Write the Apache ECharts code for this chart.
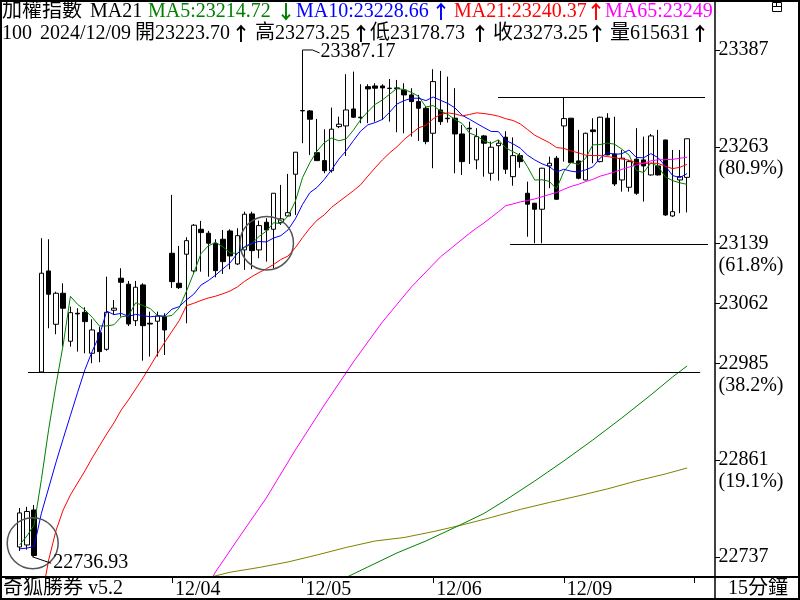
<!DOCTYPE html>
<html lang="zh-Hant">
<head>
<meta charset="UTF-8">
<title>加權指數 15分鐘</title>
<script src="https://cdn.jsdelivr.net/npm/echarts@6/dist/echarts.min.js"></script>
<style>
    html, body { margin: 0; padding: 0; background: #fff; }
    #chart { width: 800px; height: 600px; }
</style>
</head>
<body>
<div id="chart"></div>
<script>
// ---------- data ----------
const sessionDays = ['12/02', '12/03', '12/04', '12/05', '12/06', '12/09', '12/10'];
const slotTimes = ['09:15', '09:30', '09:45', '10:00', '10:15', '10:30', '10:45', '11:00', '11:15',
    '11:30', '11:45', '12:00', '12:15', '12:30', '12:45', '13:00', '13:15', '13:30'];
const labelDays = ['12/04', '12/05', '12/06', '12/09'];
const tickDays = ['12/04', '12/05', '12/06', '12/09', '12/10'];

const opens = [
    22749.4, 22752.0, 22796.9, 22974.0, 23103.6, 23035.2, 23075.0, 23013.4, 23049.3, 23050.6,
    22998.0, 23024.4, 23003.1, 23053.2, 23094.3, 23086.6, 23039.8, 23085.7, 23036.5, 23039.1,
    23045.0, 23126.3, 23087.8, 23125.1, 23103.6, 23157.1, 23152.0, 23139.2, 23144.3, 23154.9,
    23112.6, 23130.6, 23176.8, 23130.6, 23166.1, 23157.1, 23165.6, 23174.2, 23227.7, 23309.0,
    23309.0, 23255.4, 23245.2, 23232.3, 23288.8, 23289.7, 23311.5, 23300.9, 23340.1, 23341.0,
    23341.0, 23338.1, 23338.5, 23335.9, 23329.5, 23320.9, 23312.4, 23280.3, 23310.2, 23299.6,
    23299.6, 23279.4, 23286.8, 23246.1, 23276.9, 23229.0, 23264.4, 23275.2, 23224.6, 23251.6,
    23203.3, 23190.5, 23182.8, 23238.4, 23248.3, 23289.7, 23299.6, 23244.8, 23220.4, 23284.6,
    23243.9, 23299.6, 23253.8, 23220.4, 23211.0, 23247.0, 23246.1, 23226.8, 23238.4, 23271.7,
    23174.2, 23220.4, 23223.70
];
const closes = [
    22793.1, 22795.0, 22738.5, 23100.7, 23073.7, 23075.0, 23055.8, 23050.1, 23048.5, 23038.6,
    23027.9, 23000.1, 23050.6, 23055.8, 23089.1, 23035.6, 23082.7, 23033.4, 23035.5, 23045.9,
    23027.9, 23089.9, 23082.2, 23142.5, 23162.3, 23152.8, 23139.2, 23104.0, 23115.6, 23122.9,
    23148.9, 23176.4, 23129.7, 23161.8, 23156.2, 23203.3, 23170.4, 23178.4, 23256.0, 23309.5,
    23298.3, 23245.2, 23232.3, 23285.5, 23291.9, 23310.2, 23300.9, 23300.2, 23337.2, 23338.1,
    23338.5, 23337.8, 23337.5, 23329.5, 23320.9, 23312.4, 23269.6, 23346.6, 23295.2, 23299.0,
    23279.4, 23243.9, 23286.0, 23276.0, 23267.5, 23262.4, 23267.5, 23234.1, 23251.6, 23243.9,
    23189.3, 23182.8, 23235.4, 23241.8, 23195.6, 23299.1, 23242.6, 23222.6, 23280.3, 23282.4,
    23300.9, 23252.5, 23215.3, 23248.3, 23243.9, 23203.3, 23238.4, 23276.9, 23226.8, 23175.5,
    23179.7, 23224.6, 23273.25
];
const lows = [
    22744.3, 22746.0, 22736.93, 22973.6, 23030.1, 23022.4, 23006.5, 23006.5, 23000.1, 22998.0,
    22985.2, 22986.5, 23001.3, 23047.2, 23045.0, 23033.0, 23033.0, 22988.5, 22993.7, 22993.7,
    22995.8, 23081.8, 23080.5, 23036.5, 23101.4, 23102.7, 23096.3, 23095.5, 23099.8, 23105.8,
    23111.3, 23104.9, 23105.8, 23119.9, 23115.6, 23107.1, 23162.7, 23173.3, 23175.5, 23267.5,
    23252.5, 23244.8, 23229.0, 23229.8, 23286.8, 23251.2, 23300.0, 23293.2, 23293.2, 23295.2,
    23297.4, 23295.2, 23281.6, 23280.3, 23276.0, 23270.5, 23266.2, 23235.4, 23291.0, 23294.0,
    23229.0, 23226.8, 23240.9, 23234.1, 23224.6, 23219.5, 23219.5, 23228.1, 23213.0, 23236.0,
    23147.6, 23139.2, 23139.2, 23209.8, 23195.0, 23243.9, 23242.0, 23221.3, 23220.0, 23241.8,
    23243.0, 23252.0, 23212.7, 23205.4, 23205.4, 23201.2, 23192.6, 23226.0, 23226.0, 23174.2,
    23173.0, 23177.7, 23178.73
];
const highs = [
    22799.5, 22801.0, 22803.3, 23145.6, 23144.3, 23077.0, 23087.8, 23057.8, 23055.8, 23057.0,
    23041.6, 23032.1, 23096.3, 23066.4, 23107.1, 23090.8, 23090.8, 23087.8, 23051.4, 23051.4,
    23049.3, 23201.2, 23135.7, 23146.9, 23163.9, 23167.8, 23155.0, 23144.3, 23156.2, 23157.1,
    23158.4, 23179.7, 23179.7, 23168.2, 23171.3, 23203.3, 23214.0, 23228.1, 23256.0, 23387.17,
    23310.2, 23298.7, 23285.5, 23313.2, 23301.6, 23356.1, 23359.4, 23343.2, 23343.2, 23344.5,
    23343.2, 23350.0, 23348.7, 23344.5, 23338.1, 23329.5, 23314.5, 23362.5, 23360.3, 23353.0,
    23338.1, 23291.0, 23295.2, 23286.8, 23278.0, 23269.6, 23271.7, 23283.0, 23275.0, 23255.0,
    23218.2, 23191.0, 23236.0, 23250.3, 23251.2, 23326.5, 23300.0, 23284.6, 23281.0, 23299.6,
    23301.5, 23306.0, 23301.6, 23258.9, 23246.1, 23286.8, 23276.0, 23279.4, 23284.6, 23272.0,
    23258.9, 23258.9, 23273.25
];
const lastVolume = 615631;

const ma5 = [
    22752.0, 22763.5, 22777.7, 22836.0, 22900.2, 22956.6, 23008.7, 23071.1, 23060.6, 23053.6,
    23044.2, 23033.0, 23033.1, 23034.6, 23044.7, 23046.2, 23062.8, 23059.3, 23055.3, 23046.6,
    23045.1, 23046.5, 23056.3, 23077.7, 23101.0, 23125.9, 23135.8, 23140.2, 23134.8, 23126.9,
    23126.1, 23133.6, 23138.7, 23147.9, 23154.6, 23165.5, 23164.3, 23174.0, 23192.9, 23223.5,
    23242.5, 23257.5, 23268.3, 23274.2, 23270.6, 23273.0, 23284.2, 23297.7, 23308.1, 23317.3,
    23323.0, 23330.4, 23337.8, 23336.3, 23332.8, 23327.6, 23314.0, 23315.8, 23308.9, 23304.6,
    23298.0, 23292.8, 23280.7, 23276.9, 23270.6, 23267.2, 23271.9, 23261.5, 23256.6, 23251.9,
    23237.3, 23220.3, 23220.6, 23218.6, 23209.0, 23230.9, 23242.9, 23240.3, 23248.0, 23265.4,
    23265.8, 23267.7, 23266.3, 23259.9, 23252.2, 23232.7, 23229.8, 23242.2, 23237.9, 23224.2,
    23219.5, 23216.7, 23214.72
];
const ma10 = [
    22747.0, 22748.0, 22750.0, 22792.7, 22825.1, 22857.6, 22888.2, 22918.2, 22948.0, 22976.9,
    23000.4, 23020.9, 23052.1, 23047.6, 23049.2, 23045.2, 23047.9, 23046.2, 23044.9, 23045.7,
    23045.7, 23054.6, 23057.8, 23066.5, 23073.8, 23085.5, 23091.2, 23098.2, 23106.2, 23113.9,
    23126.0, 23134.7, 23139.4, 23141.4, 23140.8, 23145.8, 23148.9, 23156.4, 23170.4, 23189.1,
    23204.0, 23210.9, 23221.1, 23233.5, 23247.1, 23257.8, 23270.8, 23283.0, 23291.1, 23294.0,
    23298.0, 23307.3, 23317.8, 23322.2, 23325.1, 23325.3, 23322.2, 23326.8, 23322.6, 23318.7,
    23312.8, 23303.4, 23298.3, 23292.9, 23287.6, 23282.6, 23282.4, 23271.1, 23266.7, 23261.2,
    23252.2, 23246.1, 23241.1, 23237.6, 23230.4, 23234.1, 23231.6, 23230.5, 23233.3, 23237.2,
    23248.4, 23255.3, 23253.3, 23254.0, 23258.8, 23249.2, 23248.8, 23254.2, 23248.9, 23238.2,
    23226.1, 23223.3, 23228.66
];
const ma21 = [
    null, null, null, 22681.4, 22732.7, 22770.0, 22796.9, 22816.2, 22831.6, 22847.0,
    22863.7, 22879.0, 22894.4, 22908.6, 22925.2, 22938.1, 22952.2, 22966.3, 22981.7, 22997.1,
    23012.1, 23026.2, 23039.9, 23059.1, 23062.1, 23065.8, 23068.9, 23071.2, 23074.3, 23077.8,
    23083.1, 23090.2, 23096.3, 23101.6, 23106.4, 23111.8, 23118.3, 23122.8, 23133.4, 23146.5,
    23158.5, 23168.8, 23175.6, 23185.3, 23192.4, 23199.5, 23206.5, 23214.2, 23225.3, 23235.9,
    23246.1, 23255.1, 23262.8, 23272.3, 23279.9, 23287.3, 23290.5, 23298.9, 23304.4, 23306.5,
    23305.1, 23302.5, 23304.4, 23306.5, 23305.6, 23304.2, 23302.2, 23299.0, 23296.7, 23292.3,
    23285.2, 23277.8, 23273.0, 23268.3, 23262.0, 23260.9, 23257.6, 23255.3, 23252.2, 23251.6,
    23251.7, 23250.4, 23249.0, 23247.2, 23245.7, 23242.6, 23241.5, 23242.0, 23241.6, 23238.0,
    23234.9, 23236.6, 23240.37
];
// [bar index, value]
const ma65 = [
    [26, 22700.7], [27, 22717.4], [30, 22758.4], [34, 22812.3], [38, 22873.9], [42, 22931.7],
    [46, 22986.8], [50, 23038.1], [54, 23083.1], [58, 23121.6], [62, 23151.8], [63, 23158.8],
    [64, 23165.2], [65, 23172.4], [66, 23179.6], [67, 23187.3], [68, 23189.6], [69, 23192.2],
    [70, 23194.0], [71, 23196.0], [72, 23198.8], [73, 23201.7], [74, 23204.2], [75, 23208.3],
    [76, 23212.1], [77, 23214.7], [78, 23218.2], [79, 23221.1], [80, 23225.2], [81, 23227.8],
    [82, 23230.6], [83, 23233.9], [84, 23236.9], [85, 23239.6], [86, 23241.9], [87, 23244.9],
    [88, 23246.2], [89, 23246.4], [90, 23246.8], [91, 23248.2], [92, 23249.57]
];
const maOlive = [
    [26, 22710.0], [29, 22717.0], [33, 22723.1], [37, 22730.2], [41, 22739.2], [45, 22748.8],
    [49, 22757.1], [53, 22761.6], [57, 22769.1], [61, 22777.7], [65, 22787.3], [69, 22797.6],
    [73, 22806.5], [77, 22814.9], [81, 22823.9], [85, 22834.1], [89, 22843.1], [92, 22850.8]
];
const maLong = [
    [45, 22710.3], [48, 22723.8], [52, 22741.7], [56, 22757.1], [60, 22774.5], [64, 22792.4],
    [67, 22809.7], [71, 22834.1], [75, 22859.8], [79, 22886.7], [83, 22915.0], [87, 22944.5],
    [90, 22967.6], [92, 22981.7]
];

const yLabelValues = [23387, 23263, 23139, 23062, 22985, 22861, 22737];
const yLabelPct = ['', '(80.9%)', '(61.8%)', '', '(38.2%)', '(19.1%)', ''];

// [from bar, to bar, price]
const levelLines = [[65.94, 94.47, 23326.5], [67.6, 94.88, 23138.8], [1.16, 93.8, 22973.6]];
// [bar, price, radius px]
const circleMarks = [[1.8, 22754.2, 25.5], [34.06, 23139.2, 26.7]];
// [bar, price, 1 = high / -1 = low]
const extremes = [[39, 23387.17, 1], [2, 22736.93, -1]];

// ---------- build ----------
let categories = [];
sessionDays.forEach((d, k) => {
    let slots = slotTimes;
    if (k === 0) slots = slotTimes.slice(-3);
    if (k === sessionDays.length - 1) slots = slotTimes.slice(0, 3);
    slots.forEach(t => categories.push(d + ' ' + t));
});
const labelIdx = labelDays.map(d => categories.indexOf(d + ' ' + slotTimes[0]));
const tickIdx = tickDays.map(d => categories.indexOf(d + ' ' + slotTimes[0]));
const kData = opens.map((o, i) => [o, closes[i], lows[i], highs[i]]);
const n = closes.length;
const lastBarSlot = categories.length - 0.5;   // right edge of the plot on the bar scale

const FONT = '"Liberation Serif", "Noto Sans CJK TC", serif';
const font20 = '20px ' + FONT;
const arrowFont = 'bold 19px "Noto Sans CJK TC"';
const GREEN = '#008000', BLUE = '#0000ff', RED = '#ff0000', MAGENTA = '#ff00ff', OLIVE = '#808000';

const headerRow1 = [
    {t: '加權指數', c: '#000', x: 2},
    {t: 'MA21', c: '#000', x: 90},
    {t: 'MA5:' + ma5[n - 1].toFixed(2), c: GREEN, x: 148},
    {t: '↓', c: GREEN, x: 286, a: 1},
    {t: 'MA10:' + ma10[n - 1].toFixed(2), c: BLUE, x: 296},
    {t: '↑', c: BLUE, x: 441, a: 1},
    {t: 'MA21:' + ma21[n - 1].toFixed(2), c: RED, x: 454},
    {t: '↑', c: RED, x: 596, a: 1},
    {t: 'MA65:' + ma65[ma65.length - 1][1].toFixed(2), c: MAGENTA, x: 605}
];
const headerRow2 = [
    {t: '100', x: 2},
    {t: '2024/12/09', x: 40},
    {t: '開' + opens[n - 1].toFixed(2), x: 135},
    {t: '↑', x: 241, a: 1},
    {t: '高' + highs[n - 1].toFixed(2), x: 255},
    {t: '↑', x: 361, a: 1},
    {t: '低' + lows[n - 1].toFixed(2), x: 370},
    {t: '↑', x: 480, a: 1},
    {t: '收' + closes[n - 1].toFixed(2), x: 493},
    {t: '↑', x: 597, a: 1},
    {t: '量' + lastVolume, x: 610},
    {t: '↑', x: 700, a: 1}
];

function headerText(item, y) {
    if (item.a) {
        return {
            type: 'text', z: 50,
            style: {text: item.t, x: item.x, y: y, font: arrowFont, fill: item.c || '#000',
                textAlign: 'center', textVerticalAlign: 'middle'}
        };
    }
    return {
        type: 'text', z: 50,
        style: {
            text: item.t, x: item.x, y: y, font: font20, fill: item.c || '#000',
            textAlign: 'left', textVerticalAlign: 'middle',
            width: 717 - item.x, overflow: 'truncate', ellipsis: ''
        }
    };
}

const graphics = [
    {type: 'rect', z: 60, shape: {x: 1, y: 1, width: 798, height: 598}, style: {fill: 'none', stroke: '#000', lineWidth: 2}},
    {type: 'line', z: 60, shape: {x1: 0, y1: 577, x2: 800, y2: 577}, style: {stroke: '#000', lineWidth: 2}},
    {type: 'line', z: 60, shape: {x1: 715, y1: 0, x2: 715, y2: 600}, style: {stroke: '#000', lineWidth: 1.5}},
    {type: 'rect', z: 60, shape: {x: 772.5, y: 2.5, width: 9, height: 9}, style: {fill: 'none', stroke: '#000', lineWidth: 1}},
    {type: 'line', z: 60, shape: {x1: 772.5, y1: 6.5, x2: 781.5, y2: 6.5}, style: {stroke: '#000', lineWidth: 1}},
    {type: 'line', z: 60, shape: {x1: 776.5, y1: 2.5, x2: 776.5, y2: 6.5}, style: {stroke: '#000', lineWidth: 1}},
    {type: 'text', z: 60, style: {text: '奇狐勝券 v5.2', x: 3, y: 589, font: font20, fill: '#000', textAlign: 'left', textVerticalAlign: 'middle'}},
    {type: 'text', z: 60, style: {text: '15分鐘', x: 758, y: 589, font: font20, fill: '#000', textAlign: 'center', textVerticalAlign: 'middle'}}
];
headerRow1.forEach(it => graphics.push(headerText(it, 12)));
headerRow2.forEach(it => graphics.push(headerText(it, 34)));

function maLine(name, data, color) {
    return {
        name: name, type: 'line', data: data, symbol: 'none', z: 3,
        lineStyle: {color: color, width: 1}, itemStyle: {color: color},
        connectNulls: false, silent: true, clip: true
    };
}

const chart = echarts.init(document.getElementById('chart'));
chart.setOption({
    animation: false,
    backgroundColor: '#fff',
    grid: {left: 16, right: 87.5, top: 42, bottom: 23},
    xAxis: [{
        type: 'category',
        data: categories,
        boundaryGap: true,
        axisLine: {show: false},
        axisTick: {
            show: true, alignWithLabel: true, length: 6,
            interval: (i) => tickIdx.includes(i),
            lineStyle: {color: '#000', width: 1}
        },
        axisLabel: {
            interval: (i) => labelIdx.includes(i),
            formatter: (v) => v.slice(0, 5),
            align: 'left', padding: [0, 0, 0, 3], margin: 3,
            fontSize: 20, fontFamily: FONT, color: '#000'
        },
        splitLine: {show: false}
    }, {
        type: 'value', min: -0.5, max: lastBarSlot, show: false
    }],
    yAxis: {
        type: 'value',
        position: 'right',
        min: 22710.9, max: 23397.4,
        offset: 4,
        splitLine: {show: false},
        axisLine: {show: false},
        axisTick: {show: false},
        axisLabel: {
            customValues: yLabelValues,
            margin: 2,
            fontSize: 20, fontFamily: FONT, color: '#000', lineHeight: 22,
            formatter: (v) => {
                const k = yLabelValues.indexOf(Math.round(v));
                const p = k >= 0 ? yLabelPct[k] : '';
                return p ? '\n' + Math.round(v) + '\n' + p : String(Math.round(v));
            }
        }
    },
    graphic: graphics,
    series: [
        {
            name: '加權指數', type: 'candlestick', data: kData, barWidth: 5, z: 2,
            itemStyle: {
                color: '#fff', color0: '#000',
                borderColor: '#000', borderColor0: '#000', borderColorDoji: '#000', borderWidth: 1
            },
            silent: true
        },
        maLine('MA5', ma5, GREEN),
        maLine('MA10', ma10, BLUE),
        maLine('MA21', ma21, RED),
        maLine('MA65', ma65, MAGENTA),
        maLine('MA olive', maOlive, OLIVE),
        maLine('MA long', maLong, GREEN),
        {
            // price-axis tick marks, just right of the axis line
            type: 'custom', xAxisIndex: 1, z: 4, clip: false, silent: true,
            data: yLabelValues.map(v => [lastBarSlot, v]), encode: {x: 0, y: 1},
            renderItem: (params, api) => {
                const p = api.coord([api.value(0), api.value(1)]);
                const y = Math.round(p[1]) + 0.5;
                return {type: 'line', shape: {x1: 715, y1: y, x2: 720, y2: y}, style: {stroke: '#000', lineWidth: 1}};
            }
        },
        {
            type: 'custom', xAxisIndex: 1, z: 4, clip: false, silent: true,
            data: levelLines, encode: {x: [0, 1], y: 2},
            renderItem: (params, api) => {
                const a = api.coord([api.value(0), api.value(2)]);
                const b = api.coord([api.value(1), api.value(2)]);
                const y = Math.round(a[1]) + 0.5;
                return {type: 'line', shape: {x1: a[0], y1: y, x2: b[0], y2: y}, style: {stroke: '#000', lineWidth: 1}};
            }
        },
        {
            type: 'custom', xAxisIndex: 1, z: 4, clip: false, silent: true,
            data: circleMarks, encode: {x: 0, y: 1},
            renderItem: (params, api) => {
                const c = api.coord([api.value(0), api.value(1)]);
                return {type: 'circle', shape: {cx: c[0], cy: c[1], r: api.value(2)}, style: {fill: 'none', stroke: '#555', lineWidth: 1.5}};
            }
        },
        {
            type: 'custom', xAxisIndex: 1, z: 4, clip: false, silent: true,
            data: extremes, encode: {x: 0, y: 1},
            renderItem: (params, api) => {
                const p = api.coord([api.value(0), api.value(1)]);
                const high = api.value(2) > 0;
                const pts = high
                    ? [[p[0], p[1]], [p[0] + 10, p[1]], [p[0] + 17, p[1] + 3]]
                    : [[p[0] - 2, p[1]], [p[0] + 17, p[1] + 6.5]];
                const tx = high ? p[0] + 18 : p[0] + 19;
                const ty = high ? p[1] + 2 : p[1] + 6.5;
                return {
                    type: 'group',
                    children: [
                        {type: 'polyline', shape: {points: pts}, style: {fill: 'none', stroke: '#000', lineWidth: 1}},
                        {type: 'text', style: {text: api.value(1).toFixed(2), x: tx, y: ty, font: font20, fill: '#000', textAlign: 'left', textVerticalAlign: 'middle'}}
                    ]
                };
            }
        }
    ]
});
</script>
</body>
</html>
